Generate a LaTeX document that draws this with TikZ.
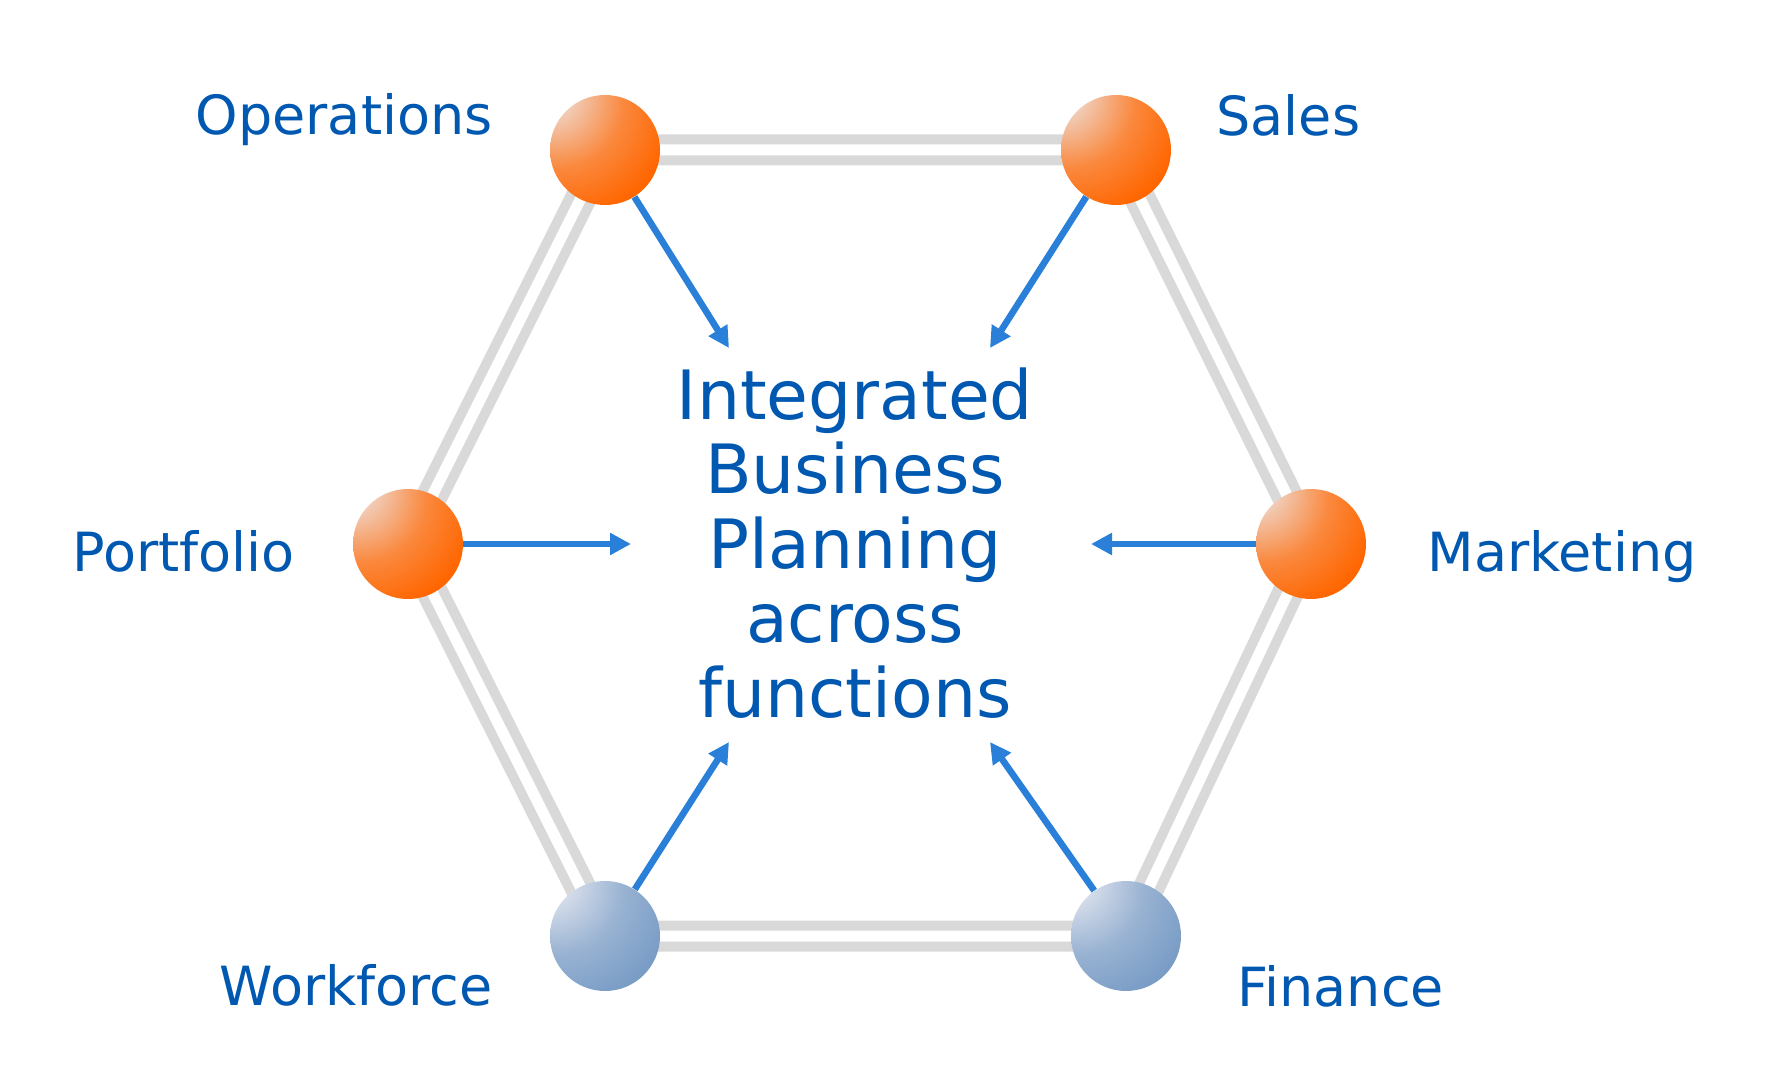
\documentclass[tikz,border=0pt]{standalone}
\usepackage{fontspec}
\setmainfont{DejaVu Sans}
\usetikzlibrary{arrows.meta,backgrounds}

\definecolor{ibpblue}{RGB}{0,88,176}
\definecolor{arrowblue}{RGB}{42,128,216}
\definecolor{hexgray}{RGB}{217,217,217}
\definecolor{ballorange}{RGB}{255,102,0}
\definecolor{orangehi}{RGB}{238,222,216}
\definecolor{ballsteel}{RGB}{122,157,198}
\definecolor{steelhi}{RGB}{228,231,240}

\pgfdeclareradialshading{orangeball}{\pgfpoint{-28bp}{28bp}}{color(0bp)=(orangehi); color(6bp)=(orangehi); color(30bp)=(ballorange!72!orangehi); color(48bp)=(ballorange); color(130bp)=(ballorange)}
\pgfdeclareradialshading{steelball}{\pgfpoint{-28bp}{28bp}}{color(0bp)=(steelhi); color(6bp)=(steelhi); color(30bp)=(ballsteel!72!steelhi); color(48bp)=(ballsteel); color(130bp)=(ballsteel)}

\begin{document}
\begin{tikzpicture}[
			x=0.5pt, y=-0.5pt,
			ball/.style={circle, inner sep=0pt, minimum size=55pt, shade},
			orange ball/.style={ball, shading=orangeball},
			steel ball/.style={ball, shading=steelball},
			func/.style={text=ibpblue, inner sep=0pt, font=\fontsize{27}{32}\selectfont},
			feed/.style={draw=arrowblue, line width=3.3pt, -{Triangle[length=10.5pt,width=10.5pt]}},
			hexline/.style={draw=hexgray, line width=5pt, double=white, double distance=5.5pt}
		]
		\useasboundingbox (0,0) rectangle (1768,1080);

		\node[orange ball] (ops) at (605,150) {};
		\node[orange ball] (sales) at (1116,150) {};
		\node[orange ball] (port) at (408,544) {};
		\node[orange ball] (mkt) at (1311,544) {};
		\node[steel ball] (work) at (605,936) {};
		\node[steel ball] (fin) at (1126,936) {};

		\begin{scope}[on background layer]
			\draw[hexline] (ops.center) -- (sales.center) -- (mkt.center) -- (fin.center) -- (work.center) -- (port.center) -- cycle;
		\end{scope}

		\node[func, anchor=base east] (opslabel) at (493,135) {Operations};
		\node[func, anchor=base west] (saleslabel) at (1216,136) {Sales};
		\node[func, anchor=base east] (portlabel) at (295,572) {Portfolio};
		\node[func, anchor=base west] (mktlabel) at (1427,572) {Marketing};
		\node[func, anchor=base east] (worklabel) at (493,1005) {Workforce};
		\node[func, anchor=base west] (finlabel) at (1237,1006) {Finance};

		\node[text=ibpblue, align=center, inner sep=0pt, font=\fontsize{34}{37.25}\selectfont] (ibp) at (855,543)
			{Integrated\\Business\\Planning\\across\\functions};

		\coordinate (opstip) at (729,348);
		\coordinate (salestip) at (990,348);
		\coordinate (porttip) at (631,544);
		\coordinate (mkttip) at (1091,544);
		\coordinate (worktip) at (729,742);
		\coordinate (fintip) at (990,742);

		\draw[feed] (ops) -- (opstip);
		\draw[feed] (sales) -- (salestip);
		\draw[feed] (port) -- (porttip);
		\draw[feed] (mkt) -- (mkttip);
		\draw[feed] (work) -- (worktip);
		\draw[feed] (fin) -- (fintip);
	\end{tikzpicture}
\end{document}
